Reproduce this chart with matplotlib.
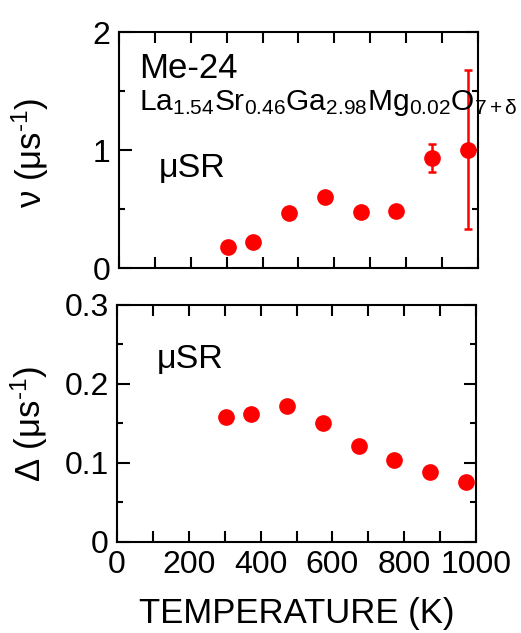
import matplotlib
matplotlib.use("Agg")
import matplotlib.pyplot as plt

plt.rcParams['font.family'] = ['Liberation Sans', 'DejaVu Sans']
plt.rcParams['mathtext.fontset'] = 'custom'
plt.rcParams['mathtext.rm'] = 'Liberation Sans'
plt.rcParams['mathtext.it'] = 'Liberation Sans:italic'
plt.rcParams['mathtext.default'] = 'regular'

temperature = [303, 373, 473, 573, 673, 773, 873, 973]
nu = [0.178, 0.22, 0.463, 0.60, 0.474, 0.482, 0.934, 1.0]
nu_err_lo = [0, 0, 0, 0, 0, 0, 0.124, 0.667]
nu_err_hi = [0, 0, 0, 0, 0, 0, 0.118, 0.675]
delta = [0.158, 0.162, 0.172, 0.151, 0.121, 0.104, 0.089, 0.076]

red = '#ff0000'
fs_tick = 23
fs_lab = 25

fig = plt.figure(figsize=(5.21, 6.33), dpi=100)
ax1 = fig.add_axes([0.2284, 0.5766, 0.689, 0.3728])
ax2 = fig.add_axes([0.2246, 0.1438, 0.689, 0.3744])

def style(ax):
    for s in ax.spines.values():
        s.set_linewidth(1.5)
    ax.tick_params(which='both', direction='in', top=True, right=True, width=1.5,
                   labelsize=fs_tick, pad=6)
    ax.tick_params(axis='y', which='major', length=9)
    ax.tick_params(axis='y', which='minor', length=4.5)
    ax.tick_params(axis='x', which='both', length=8)
    ax.set_xlim(0, 1000)
    ax.set_xticks(range(0, 1001, 200))
    ax.set_xticks(range(100, 1000, 200), minor=True)

# top panel: nu
style(ax1)
ax1.errorbar(temperature, nu, yerr=[nu_err_lo, nu_err_hi], fmt='o', color=red,
             ms=11, elinewidth=1.8, capsize=3, capthick=1.8, zorder=3)
ax1.set_ylim(0, 2)
ax1.set_yticks([0, 1, 2])
ax1.set_yticks([0.5, 1.5], minor=True)
ax1.tick_params(labelbottom=False)
ax1.set_ylabel(r'ν (μs$^{\text{-}1}$)', fontsize=fs_lab)
ax1.yaxis.set_label_coords(-0.19, 0.49)
ax1.text(0.056, 0.805, 'Me-24', transform=ax1.transAxes, fontsize=fs_lab)
ax1.text(0.056, 0.67,
         'La$_{1.54}$Sr$_{0.46}$Ga$_{2.98}$Mg$_{0.02}$O$_{7+δ}$',
         transform=ax1.transAxes, fontsize=21.5)
ax1.text(0.111, 0.386, 'μSR', transform=ax1.transAxes, fontsize=24.5)

# bottom panel: Delta
style(ax2)
ax2.plot(temperature, delta, 'o', color=red, ms=11, zorder=3)
ax2.set_ylim(0, 0.3)
ax2.set_yticks([0, 0.1, 0.2, 0.3])
ax2.set_yticklabels(['0', '0.1', '0.2', '0.3'])
ax2.set_yticks([0.05, 0.15, 0.25], minor=True)
ax2.set_ylabel(r'Δ (μs$^{\text{-}1}$)', fontsize=fs_lab)
ax2.yaxis.set_label_coords(-0.187, 0.5)
ax2.set_xlabel('TEMPERATURE (K)', fontsize=fs_lab, labelpad=12)
ax2.text(0.111, 0.734, 'μSR', transform=ax2.transAxes, fontsize=24.5)

fig.savefig('out.png', dpi=100)
